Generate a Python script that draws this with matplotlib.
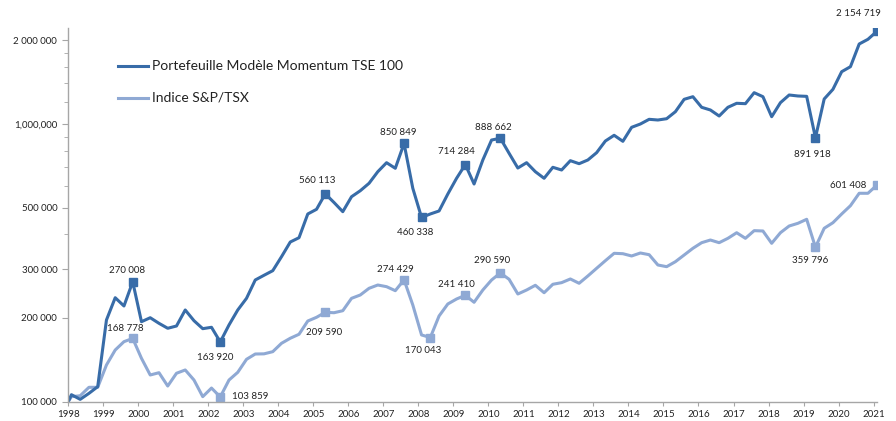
import matplotlib
matplotlib.use("Agg")
import matplotlib.pyplot as plt
from matplotlib.ticker import FixedLocator, FixedFormatter, NullFormatter

plt.rcParams['font.family'] = ['Lato', 'DejaVu Sans']

# quarterly observations (first point = start of 1998)
years = [1998.0] + [1998.09 + 0.25 * k for k in range(93)]

momentum = [100000,
    105800, 101800, 107000, 113100, 196700, 236600, 220900, 270008,
    193900, 200400, 191300, 183600, 187100, 213700, 195500, 183000,
    185100, 163920, 188700, 213700, 235400, 274100, 285000, 296100,
    332500, 375600, 389300, 474000, 492700, 560113, 521300, 483100,
    547000, 574900, 611400, 673200, 725400, 692500, 850849, 586500,
    460338, 474000, 485900, 559400, 637300, 714284, 607900, 741900,
    875500, 888662, 784300, 694100, 725400, 673200, 637300, 698200,
    682700, 737600, 719400, 741900, 788300, 868300, 910600, 866300,
    972900, 1000000, 1039700, 1033700, 1044900, 1107400, 1227400, 1254200,
    1148700, 1123300, 1068600, 1148700, 1187500, 1183700, 1296800, 1254500,
    1062400, 1193600, 1272200, 1261700, 1258000, 891918, 1230500, 1333500,
    1543600, 1608900, 1942500, 2019600, 2154719]

tsx = [100000,
    104100, 104900, 112500, 112500, 135400, 153300, 164300, 168778,
    143100, 124600, 127000, 113700, 126400, 129900, 119500, 104100,
    111800, 103859, 119500, 127400, 141900, 148300, 148500, 151200,
    162100, 169000, 174700, 195000, 201100, 209590, 208900, 212400,
    235400, 242000, 255800, 262900, 259300, 250800, 274429, 222700,
    173700, 170043, 203300, 224600, 234100, 241410, 227800, 252200,
    274100, 290590, 275700, 244000, 252200, 262300, 246600, 264500,
    268100, 276400, 266700, 283400, 302000, 321700, 342000, 340900,
    334500, 342900, 338100, 310400, 306100, 319000, 337200, 356500,
    373500, 381900, 373500, 387300, 405700, 387300, 412700, 411600,
    371600, 405700, 429000, 438700, 453500, 359796, 420900, 440900,
    474000, 507700, 562800, 562800, 601408]

# labelled points: index -> (dx px, dy px, ha)
mom_labels = {8: (-6, 11, 'center'), 18: (-5, -16, 'center'), 30: (-8, 13, 'center'),
              39: (-6, 11, 'center'), 41: (-6, -15, 'center'), 46: (-9, 13, 'center'),
              50: (-7, 11, 'center'), 86: (-3, -17, 'center'), 93: (-18, 18, 'center')}
tsx_labels = {8: (-7, 10, 'center'), 18: (12, 0, 'left'), 30: (-1, -20, 'center'),
              39: (-9, 10, 'center'), 42: (-7, -13, 'center'), 46: (-9, 11, 'center'),
              50: (-8, 12, 'center'), 86: (-5, -13, 'center'), 93: (-10, 0, 'right')}

dark = '#386CA8'
light = '#8FA9D4'

W, H = 896, 421
fig = plt.figure(figsize=(W / 100, H / 100), dpi=100)
ax = fig.add_axes([68.3 / W, 19.5 / H, (876.7 - 68.3) / W, (401.5 - 28) / H])

ax.plot(years, tsx, color=light, lw=2.2, solid_joinstyle='round')
ax.plot(years, momentum, color=dark, lw=2.2, solid_joinstyle='round')


def fmt(v):
    return f"{v:,}".replace(",", " ")


px = 0.72
for series, labs, col in [(momentum, mom_labels, dark), (tsx, tsx_labels, light)]:
    for i, (dx, dy, ha) in labs.items():
        ax.plot(years[i], series[i], 's', color=col, ms=5.2)
        ax.annotate(fmt(series[i]), (years[i], series[i]), xytext=(dx * px, dy * px),
                    textcoords='offset points', ha=ha, va='center', fontsize=7,
                    color='#222222')

ax.set_yscale('log')
ax.set_ylim(100000, 2218000)
ax.set_xlim(1998, 2021.09)

yt = [100000, 200000, 300000, 500000, 1000000, 2000000]
ax.yaxis.set_major_locator(FixedLocator(yt))
ax.yaxis.set_major_formatter(FixedFormatter(['100 000', '200 000', '300 000', '500 000',
                                             '1,000,000', '2 000 000']))
ax.yaxis.set_minor_locator(FixedLocator([400000, 600000, 700000, 800000, 900000,
                                         1200000, 1400000, 1600000, 1800000]))
ax.yaxis.set_minor_formatter(NullFormatter())

ax.set_xticks(range(1998, 2022))
ax.set_xticklabels([str(y) for y in range(1998, 2022)])

for s in ['top', 'right']:
    ax.spines[s].set_visible(False)
for s in ['left', 'bottom']:
    ax.spines[s].set_color('#A6A6A6')
    ax.spines[s].set_linewidth(1.0)

ax.tick_params(axis='both', which='both', color='#A6A6A6', direction='out',
               labelsize=7, labelcolor='#222222')
ax.tick_params(axis='y', which='major', length=4, pad=4)
ax.tick_params(axis='y', which='minor', length=3)
ax.tick_params(axis='x', length=3, pad=3)

# legend
ax.plot([0.0615, 0.099], [0.898, 0.898], color=dark, lw=2.2, transform=ax.transAxes)
ax.plot([0.0615, 0.099], [0.813, 0.813], color=light, lw=2.2, transform=ax.transAxes)
ax.text(0.104, 0.898, 'Portefeuille Modèle Momentum TSE 100', transform=ax.transAxes,
        fontsize=10, va='center', color='#222222')
ax.text(0.104, 0.813, 'Indice S&P/TSX', transform=ax.transAxes,
        fontsize=10, va='center', color='#222222')

fig.savefig('out.png', dpi=100)
